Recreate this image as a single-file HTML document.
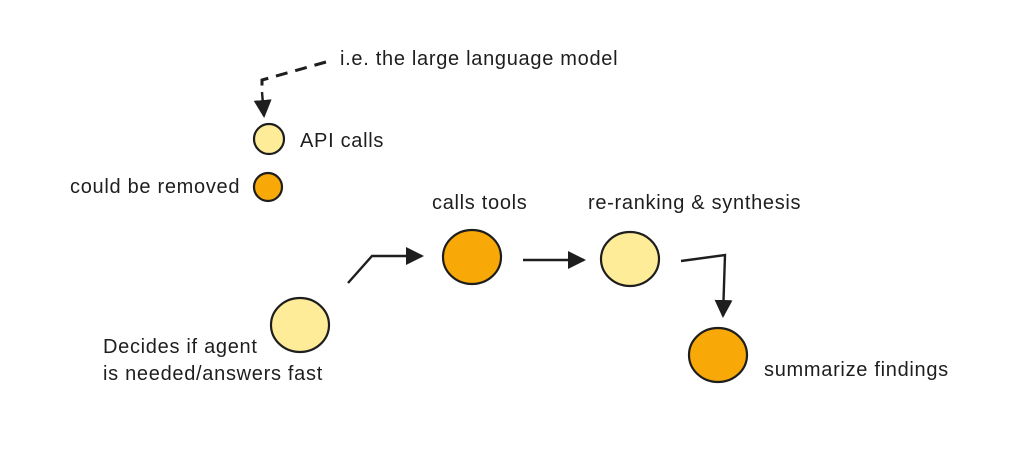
<!DOCTYPE html>
<html><head><meta charset="utf-8"><style>
html,body{margin:0;padding:0;background:#fff;}
svg{display:block}
text{font-family:"Liberation Sans",sans-serif;font-size:20px;letter-spacing:0.7px;fill:#1e1e1e;}
</style></head><body>
<svg width="1024" height="456" viewBox="0 0 1024 456" xmlns="http://www.w3.org/2000/svg">
<defs>
<marker id="ahb" markerWidth="18" markerHeight="18" refX="16" refY="9" orient="auto" markerUnits="userSpaceOnUse" viewBox="0 0 18 18">
<path d="M0,0 L18,9 L0,18 z" fill="#1e1e1e"/>
</marker>
</defs>
<g stroke="#1e1e1e" stroke-width="2.4" fill="none">
<path d="M326,62 L262,80 L262,92" stroke-dasharray="12,8" stroke-width="3"/>
<path d="M262,92 L264,116" marker-end="url(#ahb)"/>
<path d="M348,283 L372,256 L422,256" marker-end="url(#ahb)"/>
<path d="M523,260 L584,260" marker-end="url(#ahb)"/>
<path d="M681,261 L725,255 L723,316" marker-end="url(#ahb)"/>
</g>
<g stroke="#1e1e1e" stroke-width="2.2">
<circle cx="269" cy="139" r="15" fill="#ffec99"/>
<circle cx="268" cy="187" r="14" fill="#f8a907"/>
<ellipse cx="300" cy="325" rx="29" ry="27" fill="#ffec99"/>
<ellipse cx="472" cy="257" rx="29" ry="27" fill="#f8a907"/>
<ellipse cx="630" cy="259" rx="29" ry="27" fill="#ffec99"/>
<ellipse cx="718" cy="355" rx="29" ry="27" fill="#f8a907"/>
</g>
<text x="340" y="65">i.e. the large language model</text>
<text x="300" y="147">API calls</text>
<text x="70" y="193">could be removed</text>
<text x="432" y="209">calls tools</text>
<text x="588" y="209">re-ranking &amp; synthesis</text>
<text x="103" y="353">Decides if agent</text>
<text x="103" y="380">is needed/answers fast</text>
<text x="764" y="376">summarize findings</text>
</svg>
</body></html>
